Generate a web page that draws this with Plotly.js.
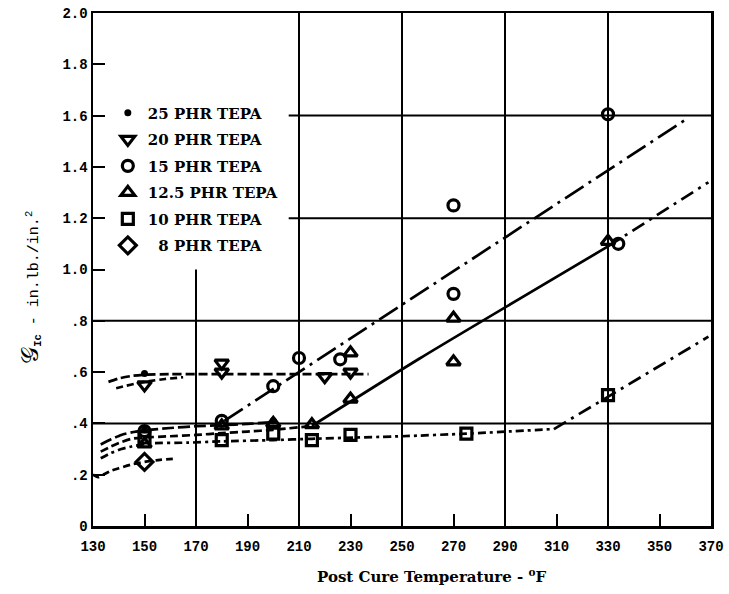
<!DOCTYPE html>
<html><head><meta charset="utf-8">
<script src="https://cdn.plot.ly/plotly-3.0.1.min.js"></script>
<style>html,body{margin:0;padding:0;background:#fff;}</style>
</head><body><div id="chart" style="width:729px;height:594px;"></div>
<script>
// ---- tick labels ----
const xTickVals = [130,150,170,190,210,230,250,270,290,310,330,350,370];
const xTickText = ["130","150","170","190","210","230","250","270","290","310","330","350","370"];
const yTickVals = [0,0.2,0.4,0.6,0.8,1.0,1.2,1.4,1.6,1.8,2.0];
const yTickText = ["0",".2",".4",".6",".8","1.0","1.2","1.4","1.6","1.8","2.0"];

// ---- series names ----
const seriesNames = ["25 PHR TEPA","20 PHR TEPA","15 PHR TEPA","12.5 PHR TEPA","10 PHR TEPA","\u20078 PHR TEPA"];

// ---- data points ----
const phr25X = [150,150,200];
const phr25Y = [0.595,0.375,0.41];
const phr20X = [150,180,180,220,230];
const phr20Y = [0.55,0.635,0.60,0.582,0.60];
const phr15X = [150,180,200,210,226,270,270,330,334];
const phr15Y = [0.37,0.41,0.545,0.655,0.65,0.905,1.25,1.605,1.10];
const phr125X = [150,180,200,215,230,230,270,270,330];
const phr125Y = [0.32,0.39,0.40,0.395,0.675,0.495,0.81,0.64,1.11];
const phr10X = [150,180,200,215,230,275,330];
const phr10Y = [0.345,0.335,0.36,0.335,0.355,0.36,0.51];
const phr8X = [150];
const phr8Y = [0.25];

// ---- fitted curves ----
const curveUpperAX = [136,140,145,150,160,170,237];
const curveUpperAY = [0.562,0.575,0.585,0.59,0.592,0.592,0.592];
const curveUpperBX = [139,143,147,152,158,165];
const curveUpperBY = [0.537,0.547,0.556,0.565,0.573,0.58];
const curve15LowX = [133,137,141,145,150,160,170,180,190,200];
const curve15LowY = [0.318,0.338,0.355,0.365,0.373,0.382,0.389,0.393,0.398,0.405];
const curve15RiseX = [181,361];
const curve15RiseY = [0.41,1.59];
const curve125LowX = [133,137,141,145,150,160,170,180,190,200,215];
const curve125LowY = [0.29,0.31,0.327,0.34,0.345,0.35,0.355,0.362,0.368,0.375,0.39];
const curve125SolidX = [215,257,330];
const curve125SolidY = [0.39,0.654,1.09];
const curve125TailX = [330,369];
const curve125TailY = [1.09,1.34];
const curve10FlatX = [133,137,141,145,152,167,180,200,215,250,275,309];
const curve10FlatY = [0.264,0.285,0.3,0.31,0.322,0.325,0.33,0.335,0.34,0.35,0.36,0.378];
const curve10RiseX = [309,369];
const curve10RiseY = [0.378,0.738];
const curve8X = [130,132,134,137,140,145,150,156,161];
const curve8Y = [0.2,0.19,0.2,0.215,0.225,0.24,0.25,0.258,0.262];

const K = '#000';
const LW = 2.7;
function curve(x, y, dash) {
  return {x, y, type:'scatter', mode:'lines', showlegend:false, hoverinfo:'skip',
          line:{color:K, width:LW, dash:dash, shape:'spline', smoothing:0.6}};
}
function pts(x, y, name, symbol, size, grp) {
  return {x, y, type:'scatter', mode:'markers', name, legendgroup:grp,
          marker:{symbol, size, color:K, line:{color:K, width: symbol==='circle' ? 0 : 3.2}}};
}

const traces = [
  curve(curveUpperAX, curveUpperAY, '9px,4px'),
  curve(curveUpperBX, curveUpperBY, '7px,4px'),
  curve(curve15LowX, curve15LowY, '12px,4px'),
  curve(curve15RiseX, curve15RiseY, '22px,6px,3px,6px'),
  curve(curve125LowX, curve125LowY, '8px,4px'),
  curve(curve125SolidX, curve125SolidY, 'solid'),
  curve(curve125TailX, curve125TailY, '14px,6px,3px,6px'),
  curve(curve10FlatX, curve10FlatY, '8px,4px,3px,4px'),
  curve(curve10RiseX, curve10RiseY, '14px,6px,3px,6px'),
  curve(curve8X, curve8Y, '7px,4px'),
  pts(phr25X, phr25Y, seriesNames[0], 'circle', 7, 'a'),
  pts(phr20X, phr20Y, seriesNames[1], 'triangle-down-open', 12, 'b'),
  pts(phr15X, phr15Y, seriesNames[2], 'circle-open', 11, 'c'),
  pts(phr125X, phr125Y, seriesNames[3], 'triangle-up-open', 12, 'd'),
  pts(phr10X, phr10Y, seriesNames[4], 'square-open', 11, 'e'),
  pts(phr8X, phr8Y, seriesNames[5], 'diamond-open', 13, 'f')
];

function gl(x0,y0,x1,y1){
  return {type:'line', xref:'x', yref:'y', x0, y0, x1, y1, layer:'below',
          line:{color:K, width:2}};
}
const shapes = [
  gl(170,0,170,1.0), gl(210,0,210,2.0), gl(250,0,250,2.0), gl(290,0,290,2.0), gl(330,0,330,2.0),
  gl(130,0.4,370,0.4), gl(130,0.8,370,0.8), gl(206,1.2,370,1.2), gl(206,1.6,370,1.6)
];

const tickFont = {family:'Liberation Mono, monospace', size:14, color:K, weight:'bold'};
const layout = {
  width:729, height:594,
  margin:{l:93, r:18, t:13, b:68},
  paper_bgcolor:'#fff', plot_bgcolor:'#fff',
  showlegend:true,
  legend:{x:0.024, y:0.837, xanchor:'left', yanchor:'top', bgcolor:'rgba(0,0,0,0)',
          font:{family:'DejaVu Serif, serif', size:15, color:K, weight:'bold'},
          tracegroupgap:4, traceorder:'grouped'},
  xaxis:{range:[130,370], tickvals:xTickVals, ticktext:xTickText, ticks:'inside', ticklen:12,
         tickwidth:2, tickcolor:K, showgrid:false, zeroline:false, showline:true, linewidth:2.5,
         linecolor:K, mirror:true, tickfont:tickFont, fixedrange:true, ticklabelstandoff:6},
  yaxis:{range:[0,2], tickvals:yTickVals, ticktext:yTickText, ticks:'inside', ticklen:12,
         tickwidth:2, tickcolor:K, showgrid:false, zeroline:false, showline:true, linewidth:2.5,
         linecolor:K, mirror:true, tickfont:tickFont, fixedrange:true},
  shapes,
  annotations:[
    {xref:'paper', yref:'paper', x:0.547, y:-0.0975, xanchor:'center', yanchor:'middle', showarrow:false,
     text:'Post Cure Temperature - <sup>o</sup>F',
     font:{family:'DejaVu Serif, serif', size:15, color:K, weight:'bold'}},
    {xref:'paper', yref:'paper', x:-0.099, y:0.466, xanchor:'center', yanchor:'middle', showarrow:false,
     textangle:-90,
     text:'<span style="font-size:24px">\u{1D4A2}</span><sub><b>Ic</b></sub> - in.lb./in.<sup>2</sup>',
     font:{family:'Liberation Mono, monospace', size:15, color:K}}
  ]
};

Plotly.newPlot('chart', traces, layout, {displayModeBar:false, staticPlot:true});
</script>
</body></html>
